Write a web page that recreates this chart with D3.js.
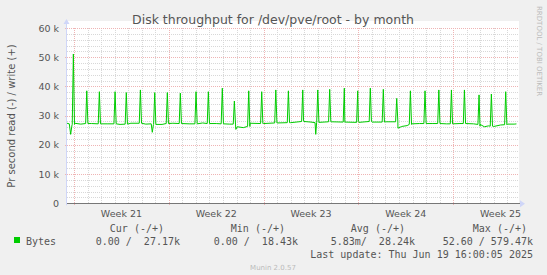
<!DOCTYPE html>
<html>
<head>
<meta charset="utf-8">
<script src="https://cdn.jsdelivr.net/npm/d3@7"></script>
<style>
  body { margin: 0; background: #f0f0f0; }
  text { font-family: "DejaVu Sans", sans-serif; fill: #555; }
  .mono { font-family: "DejaVu Sans Mono", monospace; white-space: pre; }
</style>
</head>
<body>
<div id="chart"></div>
<script>
// Day offsets are counted from Sunday 18 May 2025 00:00, values in thousands of bytes/s
const baseDays   = [-0.52, -0.35, -0.25, -0.15, 0.05, 0.5, 1.3, 2.5, 3.4, 4.2, 5.3, 5.7, 5.78, 5.86,
                    6.5, 7.3, 8.5, 9.5, 10.5, 11.5, 11.95, 12.05, 12.5, 12.8, 13.0, 14.0, 15.0, 16.0,
                    16.95, 17.5, 17.8, 17.85, 17.92, 19.0, 20.0, 21.0, 22.0, 23.0, 23.92, 24.2, 24.6,
                    24.95, 25.5, 26.5, 27.5, 28.5, 29.5, 29.98, 30.3, 30.6, 31.0, 31.5, 32.0, 32.5, 32.67];
const baseValues = [27.4, 27.2, 23.6, 26.8, 27.4, 27.1, 27.3, 27.2, 27.0, 27.4, 27.1, 27.2, 24.3, 26.9,
                    27.0, 27.4, 27.2, 27.5, 27.3, 27.1, 25.3, 26.2, 25.9, 26.3, 27.4, 27.3, 27.5, 27.6,
                    28.2, 27.8, 27.6, 23.6, 27.8, 27.9, 27.7, 28.0, 27.8, 27.9, 25.7, 26.3, 26.6,
                    27.2, 27.3, 27.3, 27.2, 27.3, 27.2, 26.4, 26.2, 26.5, 26.3, 26.8, 27.1, 27.1, 27.17];

const spikeDays  = [-0.05, 0.94, 1.87, 3.03, 3.86, 4.90, 5.96, 6.89, 7.85, 9.01, 9.92, 10.95, 11.84,
                    12.90, 13.86, 14.90, 15.83, 16.89, 18.00, 18.88, 19.96, 20.95, 21.88, 22.84, 23.83,
                    24.84, 25.92, 26.94, 27.87, 28.83, 29.91, 30.82, 31.88];
const spikePeaks = [51.1, 38.5, 38.2, 38.2, 37.9, 38.8, 37.9, 37.9, 37.7, 38.2, 38.2, 39.4, 35.0,
                    38.5, 38.2, 38.8, 38.5, 38.8, 38.8, 39.0, 39.4, 38.5, 39.4, 39.0, 35.9,
                    38.5, 38.5, 38.8, 38.8, 38.8, 37.1, 37.4, 38.2];
const spikeBase  = [27.0, 27.3, 27.2, 27.2, 27.1, 27.4, 27.0, 27.3, 27.3, 27.2, 27.3, 27.2, 27.1,
                    26.3, 27.3, 27.5, 27.6, 28.0, 27.7, 27.9, 27.8, 27.7, 28.0, 27.8, 27.9,
                    27.0, 27.3, 27.3, 27.2, 27.3, 27.0, 26.4, 26.9];

const weekStarts = [0, 7, 14, 21, 28];
const weekLabels = ["Week 21", "Week 22", "Week 23", "Week 24", "Week 25"];
const yTicks = [0, 10, 20, 30, 40, 50, 60];

const legendHeads = ["Cur (-/+)", "Min (-/+)", "Avg (-/+)", "Max (-/+)"];
const legendVals  = ["0.00 /  27.17k", "0.00 /  18.43k", "5.83m/  28.24k", "52.60 / 579.47k"];
const headRight = [164, 285, 405, 527];
const valRight  = [180, 298, 415, 533];

const width = 547, height = 275;
const margin = { top: 28, left: 67, right: 28, bottom: 72 };
const sample = 2 / 24; // two-hour rrd step

// merge baseline readings and spikes into one series
let series = baseDays.map((d, i) => [d, baseValues[i]]);
spikeDays.forEach((d, i) => {
  series.push([d - sample, spikeBase[i]]);
  series.push([d, spikePeaks[i]]);
  series.push([d + sample, spikeBase[i]]);
});
series.sort((a, b) => a[0] - b[0]);

let svg = d3.select("#chart")
            .append("svg")
            .attr("width", width)
            .attr("height", height)
            .style("background", "#f0f0f0");

let x = d3.scaleLinear()
          .domain([-0.52, 32.86])
          .range([margin.left, width - margin.right]);

let y = d3.scaleLinear()
          .domain([0, 60])
          .range([height - margin.bottom + 0.3, margin.top]);

const x0 = x.range()[0], x1 = x.range()[1];
const yb = y(0), yt = y(60);

// canvas
svg.append("rect")
   .attr("x", x0).attr("y", yt - 7)
   .attr("width", x1 - x0).attr("height", yb - yt + 7)
   .attr("fill", "#fff");

// minor grid
d3.range(Math.ceil(x.domain()[0]), x.domain()[1]).forEach(d => {
  if (weekStarts.includes(d)) return;
  svg.append("line")
     .attr("x1", Math.round(x(d)) + 0.5).attr("x2", Math.round(x(d)) + 0.5)
     .attr("y1", yt).attr("y2", yb)
     .attr("stroke", "#d8d8d8").attr("stroke-dasharray", "1,1");
});
d3.range(2, 60, 2).forEach(v => {
  if (v % 10 === 0) return;
  svg.append("line")
     .attr("x1", x0).attr("x2", x1)
     .attr("y1", Math.round(y(v)) + 0.5).attr("y2", Math.round(y(v)) + 0.5)
     .attr("stroke", "#d8d8d8").attr("stroke-dasharray", "1,1");
});

// major grid
weekStarts.forEach(d => {
  svg.append("line")
     .attr("x1", Math.round(x(d)) + 0.5).attr("x2", Math.round(x(d)) + 0.5)
     .attr("y1", yt).attr("y2", yb + 2)
     .attr("stroke", "#efb4b4").attr("stroke-dasharray", "1,1");
});
yTicks.slice(1).forEach(v => {
  svg.append("line")
     .attr("x1", x0 - 2).attr("x2", x1)
     .attr("y1", Math.round(y(v)) + 0.5).attr("y2", Math.round(y(v)) + 0.5)
     .attr("stroke", "#efb4b4").attr("stroke-dasharray", "1,1");
});

// y tick labels
svg.append("g")
   .selectAll("text")
   .data(yTicks)
   .enter()
   .append("text")
   .attr("x", 59)
   .attr("y", d => y(d) + 3.5)
   .attr("text-anchor", "end")
   .style("font-size", "9.5px")
   .text(d => d === 0 ? "0" : d + " k");

// week labels
svg.append("g")
   .selectAll("text")
   .data(weekStarts)
   .enter()
   .append("text")
   .attr("x", d => x(d + 3.5))
   .attr("y", yb + 13.5)
   .attr("text-anchor", "middle")
   .style("font-size", "9.5px")
   .text((d, i) => weekLabels[i]);

// data line
let line = d3.line()
             .x(d => x(d[0]))
             .y(d => y(d[1]));

svg.append("path")
   .datum(series)
   .attr("d", line)
   .attr("fill", "none")
   .attr("stroke", "#00cc00")
   .attr("stroke-width", 1);

// axes
svg.append("line")
   .attr("x1", x0).attr("x2", x1 + 2)
   .attr("y1", Math.round(yb) + 0.5).attr("y2", Math.round(yb) + 0.5)
   .attr("stroke", "#777");
svg.append("line")
   .attr("x1", x0 - 0.5).attr("x2", x0 - 0.5)
   .attr("y1", yb + 2).attr("y2", yt - 5)
   .attr("stroke", "#cfd6f8");
svg.append("path")
   .attr("d", `M${x0 - 3.5},${yt - 4}L${x0 - 0.5},${yt - 9}L${x0 + 2.5},${yt - 4}Z`)
   .attr("fill", "#cfd6f8");
svg.append("path")
   .attr("d", `M${x1 + 1},${yb - 3}L${x1 + 6},${yb + 0.5}L${x1 + 1},${yb + 4}Z`)
   .attr("fill", "#cfd6f8");

// title and labels
svg.append("text")
   .attr("x", 273)
   .attr("y", 24)
   .attr("text-anchor", "middle")
   .style("font-size", "12.5px")
   .text("Disk throughput for /dev/pve/root - by month");

svg.append("text")
   .attr("x", -116)
   .attr("y", 15)
   .attr("text-anchor", "middle")
   .attr("transform", "rotate(-90)")
   .style("font-size", "10px")
   .text("Pr second read (-) / write (+)");

svg.append("text")
   .attr("x", 6)
   .attr("y", -537)
   .attr("transform", "rotate(90)")
   .style("font-size", "7px")
   .style("fill", "#bbb")
   .text("RRDTOOL / TOBI OETIKER");

// legend
legendHeads.forEach((h, i) => {
  svg.append("text")
     .attr("class", "mono")
     .attr("x", headRight[i])
     .attr("y", 232)
     .attr("text-anchor", "end")
     .style("font-size", "10px")
     .text(h);
  svg.append("text")
     .attr("class", "mono")
     .attr("x", valRight[i])
     .attr("y", 245)
     .attr("text-anchor", "end")
     .style("font-size", "10px")
     .text(legendVals[i]);
});

svg.append("rect")
   .attr("x", 14).attr("y", 237)
   .attr("width", 6).attr("height", 6)
   .attr("fill", "#00cc00");
svg.append("text")
   .attr("class", "mono")
   .attr("x", 26).attr("y", 245)
   .style("font-size", "10px")
   .text("Bytes");

svg.append("text")
   .attr("class", "mono")
   .attr("x", 533).attr("y", 257.5)
   .attr("text-anchor", "end")
   .style("font-size", "10px")
   .text("Last update: Thu Jun 19 16:00:05 2025");

svg.append("text")
   .attr("x", 273).attr("y", 270)
   .attr("text-anchor", "middle")
   .style("font-size", "7px")
   .style("fill", "#bbb")
   .text("Munin 2.0.57");
</script>
</body>
</html>
